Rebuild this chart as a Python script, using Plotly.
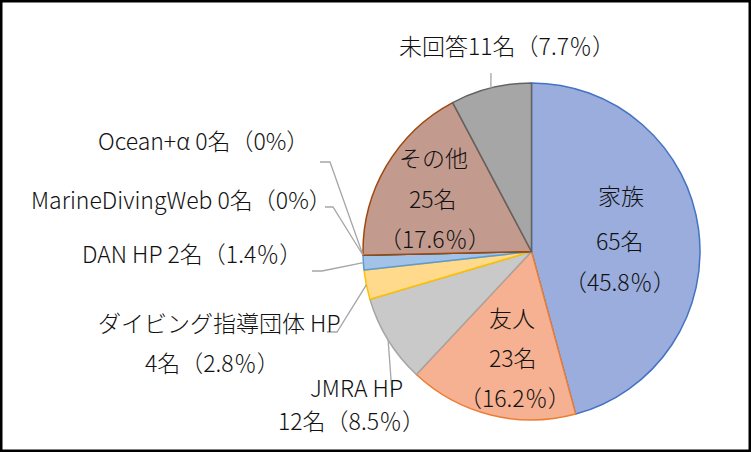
import math
import plotly.graph_objects as go

# data (total 142)
labels = ["家族", "友人", "JMRA HP", "ダイビング指導団体 HP", "DAN HP",
          "MarineDivingWeb", "Ocean+α", "その他", "未回答"]
counts = [65, 23, 12, 4, 2, 0, 0, 25, 11]
pct_text = ["45.8％", "16.2％", "8.5％", "2.8％", "1.4％", "0%", "0%", "17.6％", "7.7％"]

fill_colors = ["#9AADDD", "#F5B192", "#C9C9C9", "#FFD98C", "#A3C2E8",
               "#A9D18E", "#6F8CC0", "#C39B8E", "#A6A6A6"]
line_colors = ["#4472C4", "#ED7D31", "#A5A5A5", "#FFC000", "#5B9BD5",
               "#70AD47", "#264478", "#9E480E", "#636363"]

W, H = 751, 452
cx, cy, r = 531.5, 251.5, 168.5
FONT = "Noto Sans CJK JP"
LEADER = "#A6A6A6"


def px(x):
    return x / W


def py(y):
    return 1 - y / H


def edge_point(i):
    # point on the rim at the middle of slice i (clockwise from 12 o'clock)
    total = sum(counts)
    frac = (sum(counts[:i]) + counts[i] / 2) / total
    a = 2 * math.pi * frac
    return cx + r * math.sin(a), cy - r * math.cos(a)


fig = go.Figure()
fig.add_trace(go.Pie(
    labels=labels,
    values=counts,
    sort=False,
    direction="clockwise",
    rotation=0,
    textinfo="none",
    hoverinfo="label+value+percent",
    marker=dict(colors=fill_colors, line=dict(color=line_colors, width=1.5)),
    domain=dict(x=[px(cx - r), px(cx + r)], y=[py(cy + r), py(cy - r)]),
    showlegend=False,
))

# label layout: (slice index, [(line template, x, y), ...])
label_layout = [
    (0, [("{name}", 621, 195), ("{n}名", 620, 240), ("（{p}）", 620, 281)]),
    (1, [("{name}", 512, 317), ("{n}名", 513, 357), ("（{p}）", 515, 397)]),
    (2, [("{name}", 356, 387), ("{n}名（{p}）", 351, 420)]),
    (3, [("{name}", 220, 322), ("{n}名（{p}）", 212, 362)]),
    (4, [("{name} {n}名（{p}）", 192, 253)]),
    (5, [("{name} {n}名（{p}）", 181, 199)]),
    (6, [("{name} {n}名（{p}）", 203, 140)]),
    (7, [("{name}", 434, 157), ("{n}名", 433, 198), ("（{p}）", 435, 238)]),
    (8, [("{name}{n}名（{p}）", 507, 45)]),
]

annotations = []
for i, lines in label_layout:
    for tpl, x, y in lines:
        annotations.append(dict(
            x=px(x), y=py(y), xref="paper", yref="paper",
            text=tpl.format(name=labels[i], n=counts[i], p=pct_text[i]),
            showarrow=False, xanchor="center", yanchor="middle",
            font=dict(family=FONT, size=23, color="#111111", weight=300),
        ))

# leader lines: elbow points, ending at the slice rim
leader_layout = [
    (8, [(491, 73)]),
    (6, [(320, 162), (330, 162)]),
    (5, [(325, 207), (333, 207)]),
    (4, [(312, 271), (322, 271)]),
    (3, [(327, 332), (337, 332)]),
    (2, [(392, 393)]),
]

shapes = []
for i, pts in leader_layout:
    ex, ey = edge_point(i)
    all_pts = pts + [(ex, ey)]
    path = "M " + " L ".join(f"{px(x):.5f},{py(y):.5f}" for x, y in all_pts)
    shapes.append(dict(type="path", path=path, xref="paper", yref="paper",
                       line=dict(color=LEADER, width=1.3)))

# outer frame
shapes.append(dict(type="rect", xref="paper", yref="paper", x0=0, y0=0, x1=1, y1=1,
                   line=dict(color="black", width=5)))

fig.update_layout(
    width=W, height=H,
    margin=dict(l=0, r=0, t=0, b=0),
    paper_bgcolor="white",
    plot_bgcolor="white",
    annotations=annotations,
    shapes=shapes,
)

fig.write_html("out.html", config={"displayModeBar": False},
               post_script="document.body.style.margin='0';")
